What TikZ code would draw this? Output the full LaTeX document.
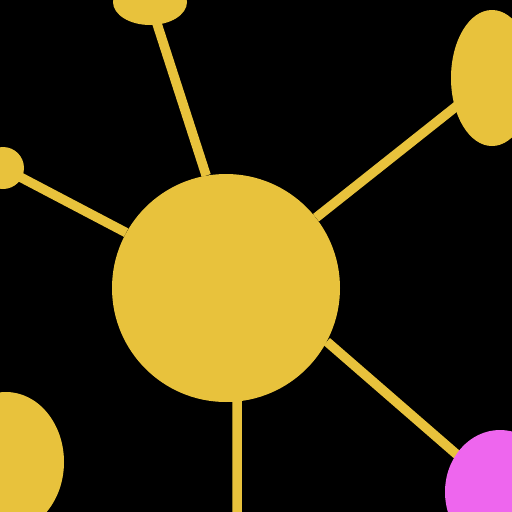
\documentclass[tikz,border=0pt]{standalone}
\usepackage{tikz}
\usetikzlibrary{shapes.geometric}
\definecolor{blobyellow}{HTML}{E8C23C}
\definecolor{blobpink}{HTML}{EE66EE}
\tikzset{
  blob/.style={ellipse,fill=blobyellow,inner sep=0pt},
  spoke/.style={draw=blobyellow,line width=9.5pt}
}
\begin{document}
\begin{tikzpicture}[x=1pt,y=-1pt]
  \fill[black] (0,0) rectangle (512,512);
  \clip (0,0) rectangle (512,512);
      \coordinate (H) at (226,288);
         \coordinate (T) at (150,2);
           \coordinate (R) at (492,78);
            \coordinate (L) at (3,168);
              \coordinate (BL) at (6,462);
                 \coordinate (BR) at (500,492);
                   \coordinate (D) at (237,520);
  \node[circle,fill=blobyellow,inner sep=0pt,minimum size=228pt] (hub) at (H){};
  % spokes first, blobs on top
  \path[spoke] (T)--(hub.100) (R)--(hub.38) (L)--(hub.151) (BR)--(hub.332) (D)--(237,380);
  \node[blob,minimum width=74pt,minimum height=46pt] (top) at (T){};
  \node[blob,minimum width=82pt,minimum height=136pt] (rtop) at (R){};
  \node[blob,minimum width=42pt,minimum height=42pt] (left) at (L){};
  \node[blob,minimum width=116pt,minimum height=140pt] (lbot) at (BL){};
  \node[blob,fill=blobpink,minimum width=110pt,minimum height=124pt] (rbot) at (BR){};
\end{tikzpicture}
\end{document}
